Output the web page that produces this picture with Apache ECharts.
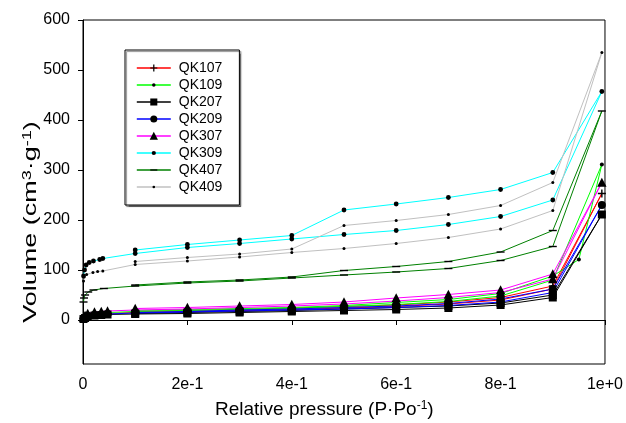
<!DOCTYPE html>
<html><head><meta charset="utf-8">
<script src="https://cdn.jsdelivr.net/npm/echarts@6/dist/echarts.min.js"></script>
<style>html,body{margin:0;padding:0;background:#fff}#c{width:626px;height:423px}</style>
</head><body><div id="c"></div>
<script>
// ---- data (relative pressure P/Po, adsorption then desorption) ----
const seriesNames = ['QK107', 'QK109', 'QK207', 'QK209', 'QK307', 'QK309', 'QK407', 'QK409'];
const xTickLabels = ['0', '2e-1', '4e-1', '6e-1', '8e-1', '1e+0'];
const yTickValues = [0, 100, 200, 300, 400, 500, 600];

const lowerP = [0.001, 0.004, 0.009, 0.022, 0.035, 0.047, 0.1, 0.2, 0.3, 0.4, 0.5, 0.6, 0.7, 0.8, 0.9, 0.994, 0.9, 0.8, 0.7, 0.6, 0.5, 0.4, 0.3, 0.2, 0.1];
const qk109P = [0.001, 0.004, 0.009, 0.022, 0.035, 0.047, 0.1, 0.2, 0.3, 0.4, 0.5, 0.6, 0.7, 0.8, 0.9, 0.994, 0.95, 0.9, 0.8, 0.7, 0.6, 0.5, 0.4, 0.3, 0.2, 0.1];
const qk309P = [0.001, 0.003, 0.006, 0.012, 0.02, 0.032, 0.038, 0.1, 0.2, 0.3, 0.4, 0.5, 0.6, 0.7, 0.8, 0.9, 0.994, 0.9, 0.8, 0.7, 0.6, 0.5, 0.4, 0.3, 0.2, 0.1];
const qk407P = [0.001, 0.002, 0.004, 0.01, 0.02, 0.04, 0.1, 0.2, 0.3, 0.4, 0.5, 0.6, 0.7, 0.8, 0.9, 0.994, 0.9, 0.8, 0.7, 0.6, 0.5, 0.4, 0.3, 0.2, 0.1];
const qk409P = [0.001, 0.002, 0.007, 0.019, 0.028, 0.038, 0.1, 0.2, 0.3, 0.4, 0.5, 0.6, 0.7, 0.8, 0.9, 0.994, 0.9, 0.8, 0.7, 0.6, 0.5, 0.4, 0.3, 0.2, 0.1];

const qk107V = [3, 6, 9, 11, 12, 13, 15, 17, 19, 21, 24, 27, 32, 40, 62, 253, 68, 45, 36, 30, 27, 24, 21, 19, 17];
const qk109V = [4, 7, 10, 13, 14, 15, 17, 19, 21, 23, 27, 31, 37, 48, 80, 311, 121, 88, 53, 41, 35, 29, 25, 23, 21, 19];
const qk207V = [2, 4, 7, 9, 10, 11, 12, 13, 15, 17, 19, 21, 24, 30, 45, 211, 50, 34, 28, 25, 22, 19, 17, 15, 13];
const qk209V = [3, 5, 8, 10, 11, 12, 14, 16, 18, 20, 22, 25, 29, 36, 55, 230, 62, 42, 33, 28, 25, 22, 20, 17, 15];
const qk307V = [5, 9, 13, 16, 17, 18, 20, 22, 25, 28, 32, 38, 45, 55, 82, 275, 92, 60, 51, 44, 36, 31, 28, 25, 23];
const qk309V = [88, 100, 110, 115, 118, 121, 123, 133, 145, 153, 162, 171, 179, 191, 207, 240, 457, 295, 261, 245, 232, 220, 169, 160, 151, 140];
const qk407V = [36, 44, 50, 56, 60, 63, 68, 74, 78, 84, 90, 96, 103, 119, 147, 418, 179, 136, 117, 107, 99, 86, 80, 76, 70];
const qk409V = [78, 86, 91, 95, 97, 98, 111, 118, 126, 135, 143, 153, 165, 182, 219, 535, 275, 229, 211, 199, 189, 142, 132, 125, 117];

// ---- styling ----
const lineColors = ['#ff0000', '#00ff00', '#000000', '#0000ff', '#ff00ff', '#00ffff', '#008000', '#c0c0c0'];
const B = 'path://M0,0M10,10';
const symbols = [
  B + 'M4.3,1H5.7V4.3H9V5.7H5.7V9H4.3V5.7H1V4.3H4.3Z',        // plus
  B + 'M3,5A2,2,0,1,1,7,5A2,2,0,1,1,3,5Z',                     // small dot
  B + 'M1,1H9V9H1Z',                                           // square
  B + 'M1,5A4,4,0,1,1,9,5A4,4,0,1,1,1,5Z',                     // circle
  B + 'M5,0.3L9.7,9.3H0.3Z',                                   // triangle
  B + 'M2.6,5A2.4,2.4,0,1,1,7.4,5A2.4,2.4,0,1,1,2.6,5Z',       // dot
  B + 'M1,4.3H9V5.7H1Z',                                       // dash
  B + 'M3.5,5A1.5,1.5,0,1,1,6.5,5A1.5,1.5,0,1,1,3.5,5Z'        // tiny dot
];
const pList = [lowerP, qk109P, lowerP, lowerP, lowerP, qk309P, qk407P, qk409P];
const vList = [qk107V, qk109V, qk207V, qk209V, qk307V, qk309V, qk407V, qk409V];

const FONT = 'Arial, "Liberation Sans", sans-serif';

const series = seriesNames.map((name, i) => ({
  name: name,
  type: 'line',
  data: pList[i].map((p, k) => [p, vList[i][k]]),
  symbol: symbols[i],
  symbolSize: 10,
  showAllSymbol: true,
  lineStyle: { color: lineColors[i], width: 1 },
  itemStyle: { color: '#000' },
  emphasis: { disabled: true },
  z: 3
}));

const chart = echarts.init(document.getElementById('c'), null, { renderer: 'canvas' });
chart.setOption({
  animation: false,
  backgroundColor: '#fff',
  grid: { left: 83, right: 21, top: 20, bottom: 59, show: true, borderColor: '#000', borderWidth: 1, backgroundColor: 'transparent' },
  xAxis: {
    type: 'value', min: 0, max: 1, interval: 0.2,
    axisLine: { lineStyle: { color: '#000', width: 1 } },
    axisTick: { show: true, length: 5, lineStyle: { color: '#000' } },
    axisLabel: { margin: 13, fontSize: 16, fontFamily: FONT, color: '#000',
      formatter: (v, idx) => xTickLabels[idx] },
    splitLine: { show: false }
  },
  yAxis: {
    type: 'value', min: -88, max: 600,
    axisLine: { show: true, lineStyle: { color: '#000', width: 1 } },
    axisTick: { show: true, length: 5, customValues: yTickValues, lineStyle: { color: '#000' } },
    axisLabel: { margin: 13, fontSize: 16, fontFamily: FONT, color: '#000', customValues: yTickValues },
    splitLine: { show: false }
  },
  legend: {
    orient: 'vertical', left: 125, top: 50,
    itemWidth: 34, itemHeight: 11, itemGap: 3,
    padding: [11, 17, 11, 11],
    backgroundColor: '#fff', borderColor: '#000', borderWidth: 1, borderRadius: 0,
    shadowColor: 'rgba(0,0,0,0.45)', shadowOffsetX: 1.5, shadowOffsetY: 1.5, shadowBlur: 1,
    selectedMode: false,
    itemStyle: { color: '#000' },
    lineStyle: { width: 1.6 },
    textStyle: { fontFamily: FONT, fontSize: 14, color: '#000', padding: [0, 0, 0, 3] },
    data: seriesNames
  },
  graphic: [
    { type: 'text', left: 215, top: 400,
      style: { text: 'Relative pressure (P·Po{sup|-1})', fontSize: 19, fontFamily: FONT, fill: '#000',
        rich: { sup: { fontSize: 12, verticalAlign: 'top', fontFamily: FONT, fill: '#000' } } } },
    { type: 'text', x: 31, y: 222, rotation: Math.PI / 2, scaleX: 1.5,
      style: { text: 'Volume (cm{sup|3}·g{sup|-1})', fontSize: 18, fontFamily: FONT, fill: '#000',
        align: 'center', verticalAlign: 'middle',
        rich: { sup: { fontSize: 12, verticalAlign: 'top', fontFamily: FONT, fill: '#000' } } } }
  ],
  series: series
});
</script></body></html>
